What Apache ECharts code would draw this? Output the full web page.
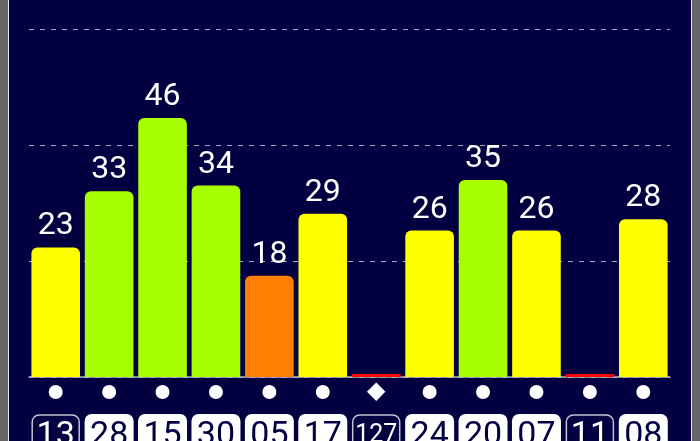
<!DOCTYPE html>
<html>
<head>
<meta charset="utf-8">
<script src="https://cdn.jsdelivr.net/npm/echarts@6/dist/echarts.min.js"></script>
<style>
  html, body { margin: 0; padding: 0; background: #676767; }
  #frame {
    position: absolute; left: 8px; top: 0; width: 684px; height: 441px;
    box-sizing: border-box; border-left: 1px solid #e8e8e8; border-right: 1px solid #e8e8e8;
    background: #020040;
  }
  #chart { width: 682px; height: 441px; }
</style>
</head>
<body>
<div id="frame"><div id="chart"></div></div>
<script>
// 数据
const categories = ['13', '28', '15', '30', '05', '17', '127', '24', '20', '07', '11', '08']
const values = [23, 33, 46, 34, 18, 29, 0, 26, 35, 26, 0, 28]
const status = ['warn', 'good', 'good', 'good', 'alert', 'warn', 'bad', 'warn', 'good', 'warn', 'bad', 'warn']
const markers = ['circle', 'circle', 'circle', 'circle', 'circle', 'circle', 'diamond', 'circle', 'circle', 'circle', 'circle', 'circle']
const outlined = [true, false, false, false, false, false, true, false, false, false, true, false]

// 状态颜色
const statusColor = {
  good: '#a8ff00',
  warn: '#ffff00',
  alert: '#ff8000',
  bad: '#ff0000'
}

const navy = '#020040'
const font = 'Roboto'

const chart = echarts.init(document.getElementById('chart'))

chart.setOption({
  backgroundColor: navy,
  animation: false,
  grid: { left: 20, right: 21, top: 29, bottom: 64, outerBoundsMode: 'none', containLabel: false },
  xAxis: [
    {
      type: 'category',
      data: categories,
      axisTick: { show: false },
      axisLine: { lineStyle: { color: '#b4b4c8', width: 1.5 } },
      axisLabel: {
        interval: 0,
        margin: 8,
        formatter: (v, i) => markers[i] === 'diamond' ? '{dia|◆}' : '{dot| }',
        rich: {
          dot: { width: 14, height: 14, lineHeight: 14, borderRadius: 7, backgroundColor: '#fff' },
          dia: { color: '#fff', fontSize: 24, lineHeight: 14, height: 14, fontFamily: 'DejaVu Sans' }
        }
      }
    },
    {
      type: 'category',
      data: categories,
      position: 'bottom',
      axisTick: { show: false },
      axisLine: { show: false },
      axisLabel: {
        interval: 0,
        margin: 37,
        formatter: (v, i) => {
          if (!outlined[i]) return '{fill|' + v + '}'
          return v.length > 2 ? '{lineSmall|' + v + '}' : '{line|' + v + '}'
        },
        rich: {
          fill: {
            width: 49, height: 44, lineHeight: 44, align: 'center', borderRadius: 7,
            backgroundColor: '#fff', color: navy, fontSize: 34, fontFamily: font
          },
          line: {
            width: 47, height: 42, lineHeight: 44, align: 'center', borderRadius: 7,
            borderColor: '#c4c4d4', borderWidth: 1.5, color: '#fff', fontSize: 34, fontFamily: font
          },
          lineSmall: {
            width: 47, height: 42, lineHeight: 44, align: 'center', borderRadius: 7,
            borderColor: '#c4c4d4', borderWidth: 1.5, color: '#fff', fontSize: 25, fontFamily: font
          }
        }
      }
    }
  ],
  yAxis: {
    type: 'value',
    min: 0,
    max: 61.8,
    interval: 20.6,
    axisLabel: { show: false },
    axisLine: { show: false },
    axisTick: { show: false },
    splitLine: { lineStyle: { color: '#a8a8c0', type: [5, 6], width: 1 } }
  },
  series: [
    {
      type: 'bar',
      xAxisIndex: 0,
      barCategoryGap: '9%',
      barMinHeight: 3,
      data: values.map((v, i) => ({
        value: v,
        itemStyle: {
          color: statusColor[status[i]],
          borderRadius: v > 0 ? [6, 6, 0, 0] : 0
        }
      })),
      label: {
        show: true,
        position: 'top',
        distance: 5,
        color: '#fff',
        fontSize: 32,
        fontFamily: font,
        formatter: p => p.value > 0 ? String(p.value) : ''
      }
    }
  ]
})
</script>
</body>
</html>
